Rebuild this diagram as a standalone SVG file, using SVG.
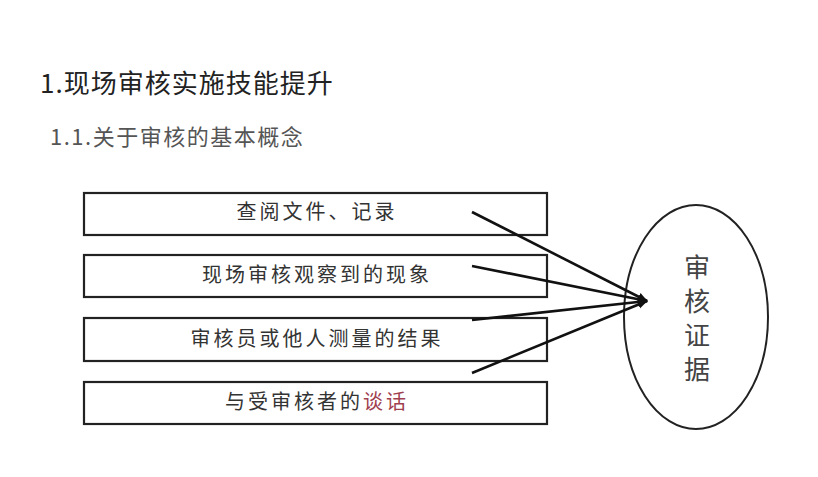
<svg xmlns="http://www.w3.org/2000/svg" width="818" height="477" viewBox="0 0 818 477">
<style>
.box{fill:#fff;stroke:#222;stroke-width:2.2}
.lbl{font-family:"Noto Sans CJK SC","Liberation Sans",sans-serif;font-size:20px;fill:#333;text-anchor:middle;letter-spacing:3px}
.conn{stroke:#111;stroke-width:2.6;fill:none}
</style>
<defs>
<marker id="ah" viewBox="0 0 10 10" refX="9" refY="5" markerWidth="4" markerHeight="4" orient="auto" markerUnits="strokeWidth">
<path d="M0,1 L10,5 L0,9 z" fill="#111"/>
</marker>
</defs>
<rect width="818" height="477" fill="#fff"/>
<text x="40" y="93" font-family="'Noto Sans CJK SC','Liberation Sans',sans-serif" font-size="26" letter-spacing="1" fill="#222">1.现场审核实施技能提升</text>
<text x="50" y="145" font-family="'Noto Sans CJK SC','Liberation Sans',sans-serif" font-size="22" letter-spacing="1.5" fill="#555">1.1.关于审核的基本概念</text>
<g id="n1"><rect class="box" x="84" y="193" width="463" height="42"/><text class="lbl" x="317" y="219">查阅文件、记录</text></g>
<g id="n2"><rect class="box" x="84" y="255" width="463" height="42"/><text class="lbl" x="317" y="282">现场审核观察到的现象</text></g>
<g id="n3"><rect class="box" x="84" y="318" width="463" height="43"/><text class="lbl" x="317" y="346">审核员或他人测量的结果</text></g>
<g id="n4"><rect class="box" x="84" y="382" width="463" height="42"/><text class="lbl" x="317" y="409">与受审核者的<tspan fill="#a0404f">谈话</tspan></text></g>
<g id="n5"><ellipse cx="696" cy="317" rx="72" ry="112" fill="#fff" stroke="#222" stroke-width="2"/>
<text font-family="'Noto Sans CJK SC','Liberation Sans',sans-serif" font-size="26" fill="#444" text-anchor="middle"><tspan x="697" y="277">审</tspan><tspan x="697" y="311">核</tspan><tspan x="697" y="345">证</tspan><tspan x="697" y="379">据</tspan></text></g>
<g id="connectors">
<line class="conn" x1="472" y1="212" x2="647" y2="301" marker-end="url(#ah)"/>
<line class="conn" x1="472" y1="266" x2="647" y2="301" marker-end="url(#ah)"/>
<line class="conn" x1="472" y1="320" x2="647" y2="301" marker-end="url(#ah)"/>
<line class="conn" x1="472" y1="373" x2="647" y2="301" marker-end="url(#ah)"/>
</g>
</svg>
